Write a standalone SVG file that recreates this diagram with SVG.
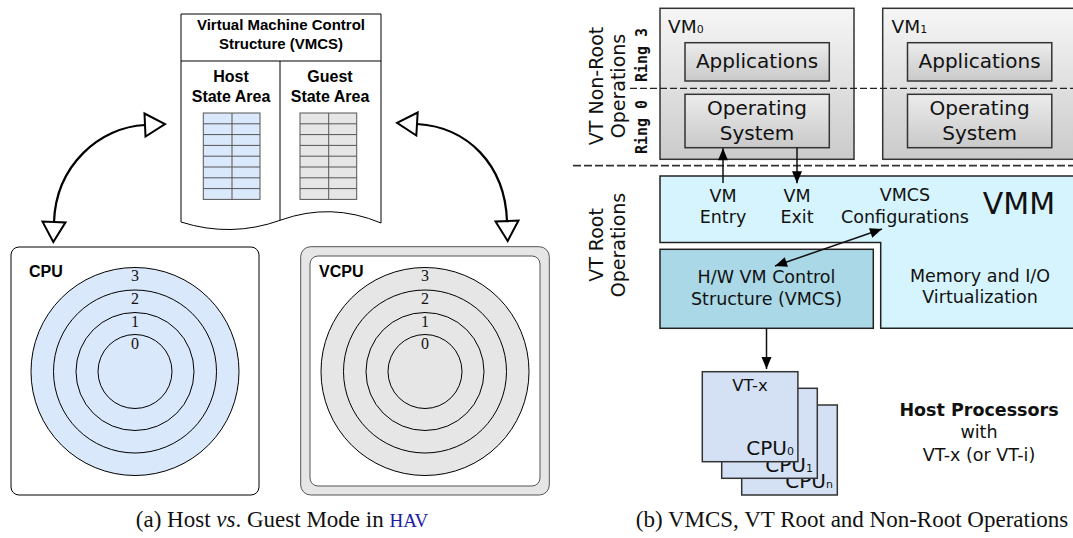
<svg xmlns="http://www.w3.org/2000/svg" width="1073" height="538" viewBox="0 0 1073 538">
<style>
.lb{font-family:"Liberation Sans",Arial,sans-serif;font-weight:bold;fill:#000}
.rn{font-family:"Liberation Serif","Times New Roman",serif;font-size:16px;fill:#111;text-anchor:middle}
.dv{font-family:"DejaVu Sans",sans-serif;fill:#111}
.mono{font-family:"DejaVu Sans Mono",monospace;font-weight:bold;font-size:15px;fill:#111;text-anchor:middle}
.mid{text-anchor:middle}
.grid{stroke:#555;stroke-width:1}
.ring{stroke:#000;stroke-width:1}
.vm{stroke:#333;stroke-width:1.5}
.cap{font-family:"Liberation Serif","Times New Roman",serif;font-size:23px;fill:#111;text-anchor:middle}
.thin{stroke:#111;stroke-width:1.5;fill:none}
.bold{stroke:#000;stroke-width:2.2;fill:none}
</style>
<defs>
<linearGradient id="gOuter" x1="0" y1="0" x2="0" y2="1"><stop offset="0" stop-color="#f6f6f6"/><stop offset="1" stop-color="#cbcbcb"/></linearGradient>
<linearGradient id="gInner" x1="0" y1="0" x2="0" y2="1"><stop offset="0" stop-color="#ececec"/><stop offset="1" stop-color="#c9c9c9"/></linearGradient>
<marker id="hollow" markerUnits="userSpaceOnUse" markerWidth="26" markerHeight="28" refX="1" refY="13.5" orient="auto-start-reverse" overflow="visible">
<path d="M1,2 L21,13.5 L1,25 Z" fill="#fff" stroke="#000" stroke-width="2"/>
</marker>
<marker id="tri" markerUnits="userSpaceOnUse" markerWidth="13" markerHeight="11" refX="12" refY="5" orient="auto-start-reverse" overflow="visible">
<path d="M0,0 L12,5 L0,10 Z" fill="#000"/>
</marker>
</defs>
<rect width="1073" height="538" fill="#fff"/>

<!-- (a) -->
<g id="vmcs-doc">
<path d="M181,14 L381,14 L381,223 Q331,202 281,220 Q231,238 181,222 Z" fill="#fff" stroke="#000" stroke-width="1"/>
<line x1="181" y1="61" x2="381" y2="61" stroke="#000"/>
<line x1="280" y1="61" x2="280" y2="220" stroke="#000"/>
<text class="lb mid" x="281" y="30" font-size="15">Virtual Machine Control</text>
<text class="lb mid" x="281" y="49" font-size="15">Structure (VMCS)</text>
<text class="lb mid" x="231" y="82" font-size="16">Host</text>
<text class="lb mid" x="231" y="102" font-size="16">State Area</text>
<text class="lb mid" x="330" y="82" font-size="16">Guest</text>
<text class="lb mid" x="330" y="102" font-size="16">State Area</text>
<g class="grid">
<rect x="203.3" y="113" width="56.7" height="86.4" fill="#dae8fc"/>
<line x1="232" y1="113" x2="232" y2="199.4"/>
<path d="M203.3,123.8H260M203.3,134.6H260M203.3,145.4H260M203.3,156.2H260M203.3,167H260M203.3,177.8H260M203.3,188.6H260"/>
<rect x="300" y="113" width="56.7" height="86.4" fill="#e6e6e6"/>
<line x1="328.7" y1="113" x2="328.7" y2="199.4"/>
<path d="M300,123.8H356.7M300,134.6H356.7M300,145.4H356.7M300,156.2H356.7M300,167H356.7M300,177.8H356.7M300,188.6H356.7"/>
</g>
</g>

<g id="cpu">
<rect x="11" y="247" width="248" height="248" rx="8" fill="#fff" stroke="#000" stroke-width="1"/>
<g fill="#dae8fc" class="ring">
<circle cx="135" cy="371.5" r="104"/>
<circle cx="135" cy="371.5" r="81.5"/>
<circle cx="135" cy="371.5" r="59"/>
<circle cx="135" cy="371.5" r="37"/>
</g>
<text class="lb" x="29" y="277" font-size="16">CPU</text>
<text class="rn" x="135" y="281">3</text>
<text class="rn" x="135" y="304">2</text>
<text class="rn" x="135" y="327">1</text>
<text class="rn" x="135" y="349">0</text>
</g>

<g id="vcpu">
<rect x="300.7" y="246.7" width="248.6" height="248.3" rx="10" fill="#e6e6e6" stroke="#555" stroke-width="1"/>
<rect x="310" y="256" width="230" height="230" rx="8" fill="#fff" stroke="#555" stroke-width="1"/>
<g fill="#e6e6e6" class="ring">
<circle cx="425" cy="371.5" r="104"/>
<circle cx="425" cy="371.5" r="81.5"/>
<circle cx="425" cy="371.5" r="59"/>
<circle cx="425" cy="371.5" r="37"/>
</g>
<text class="lb" x="319" y="277" font-size="16">VCPU</text>
<text class="rn" x="425" y="281">3</text>
<text class="rn" x="425" y="304">2</text>
<text class="rn" x="425" y="327">1</text>
<text class="rn" x="425" y="349">0</text>
</g>

<!-- (b) -->
<g id="labels-b">
<text class="dv mid" font-size="19" transform="translate(603,86) rotate(-90)">VT Non-Root</text>
<text class="dv mid" font-size="19" transform="translate(625,86) rotate(-90)">Operations</text>
<text class="mono" transform="translate(647,55) rotate(-90)">Ring 3</text>
<text class="mono" transform="translate(647,127) rotate(-90)">Ring 0</text>
<text class="dv mid" font-size="19" transform="translate(603,245) rotate(-90)">VT Root</text>
<text class="dv mid" font-size="19" transform="translate(625,245) rotate(-90)">Operations</text>
</g>

<g id="vm0">
<rect x="660" y="8.3" width="194" height="151" fill="url(#gOuter)" class="vm"/>
<text class="dv" x="668" y="33" font-size="18.5">VM<tspan font-size="11">0</tspan></text>
<rect x="685" y="42.7" width="144.3" height="38.3" fill="url(#gInner)" class="vm"/>
<text class="dv mid" x="757" y="68" font-size="20">Applications</text>
<rect x="685" y="94.3" width="144.3" height="53.4" fill="url(#gInner)" class="vm"/>
<text class="dv mid" x="757" y="115" font-size="20">Operating</text>
<text class="dv mid" x="757" y="140" font-size="20">System</text>
</g>

<g id="vm1">
<rect x="882.7" y="8.3" width="194" height="151" fill="url(#gOuter)" class="vm"/>
<text class="dv" x="891.5" y="33" font-size="18.5">VM<tspan font-size="11">1</tspan></text>
<rect x="907.5" y="42.7" width="144.3" height="38.3" fill="url(#gInner)" class="vm"/>
<text class="dv mid" x="979.6" y="68" font-size="20">Applications</text>
<rect x="907.5" y="94.3" width="144.3" height="53.4" fill="url(#gInner)" class="vm"/>
<text class="dv mid" x="979.6" y="115" font-size="20">Operating</text>
<text class="dv mid" x="979.6" y="140" font-size="20">System</text>
</g>

<g id="dividers">
<line x1="630" y1="88.3" x2="1073" y2="88.3" stroke="#222" stroke-width="1.3" stroke-dasharray="7 3"/>
<line x1="573" y1="165.7" x2="1073" y2="165.7" stroke="#333" stroke-width="1.8" stroke-dasharray="8 3"/>
</g>

<g id="vmm">
<path d="M660,176 L1080,176 L1080,328.3 L880.7,328.3 L880.7,242.5 L660,242.5 Z" fill="#d5f4fd" stroke="#222" stroke-width="1.5"/>
<text class="dv mid" x="723" y="201.7" font-size="17.5">VM</text>
<text class="dv mid" x="723" y="223.3" font-size="17.5">Entry</text>
<text class="dv mid" x="797" y="201.7" font-size="17.5">VM</text>
<text class="dv mid" x="797" y="223.3" font-size="17.5">Exit</text>
<text class="dv mid" x="905" y="200.7" font-size="17.5">VMCS</text>
<text class="dv mid" x="905" y="222.7" font-size="17.5">Configurations</text>
<text class="dv mid" x="1019" y="214" font-size="30">VMM</text>
<text class="dv mid" x="980" y="281.7" font-size="17.5">Memory and I/O</text>
<text class="dv mid" x="980" y="303.3" font-size="17.5">Virtualization</text>
</g>

<g id="hw-vmcs">
<rect x="660" y="249.3" width="213.3" height="79" fill="#aad8e6" stroke="#222" stroke-width="1.5"/>
<text class="dv mid" x="766.5" y="283.3" font-size="17.5">H/W VM Control</text>
<text class="dv mid" x="766.5" y="305" font-size="17.5">Structure (VMCS)</text>
</g>

<g id="cpus">
<rect x="741.7" y="405" width="95.6" height="90" fill="#d4e1f5" stroke="#333" stroke-width="1.5"/>
<text class="dv" x="833" y="488" font-size="20" text-anchor="end">CPU<tspan font-size="11">n</tspan></text>
<rect x="721.7" y="388.3" width="95.6" height="90" fill="#d4e1f5" stroke="#333" stroke-width="1.5"/>
<text class="dv" x="813" y="471.5" font-size="20" text-anchor="end">CPU<tspan font-size="11">1</tspan></text>
<rect x="702.3" y="371.7" width="95.6" height="90" fill="#d4e1f5" stroke="#333" stroke-width="1.5"/>
<text class="dv" x="794" y="455" font-size="20" text-anchor="end">CPU<tspan font-size="11">0</tspan></text>
<text class="dv mid" x="750" y="390.7" font-size="16.5">VT-x</text>
</g>

<g id="host-proc">
<text class="dv mid" x="979" y="416" font-size="17.5" font-weight="bold">Host Processors</text>
<text class="dv mid" x="979" y="438.3" font-size="17.5">with</text>
<text class="dv mid" x="979" y="460.7" font-size="17.5">VT-x (or VT-i)</text>
</g>

<g id="connectors">
<path class="bold" d="M145,125 C100,127 56,165 54,222" marker-start="url(#hollow)" marker-end="url(#hollow)"/>
<path class="bold" d="M417,124 C468,127 505,165 507,221" marker-start="url(#hollow)" marker-end="url(#hollow)"/>
<path class="thin" d="M723,183 L723,148.3" marker-end="url(#tri)"/>
<path class="thin" d="M797,147.7 L797,183.3" marker-end="url(#tri)"/>
<path class="thin" d="M775,266 L882,229" marker-start="url(#tri)" marker-end="url(#tri)"/>
<path class="thin" d="M766.5,328.3 L766.5,369" marker-end="url(#tri)"/>
</g>

<g id="captions">
<text class="cap" x="282" y="527">(a) Host <tspan font-style="italic">vs</tspan>. Guest Mode in <tspan fill="#1c1ca8" font-size="19">HAV</tspan></text>
<text class="cap" x="852" y="527">(b) VMCS, VT Root and Non-Root Operations</text>
</g>
</svg>
